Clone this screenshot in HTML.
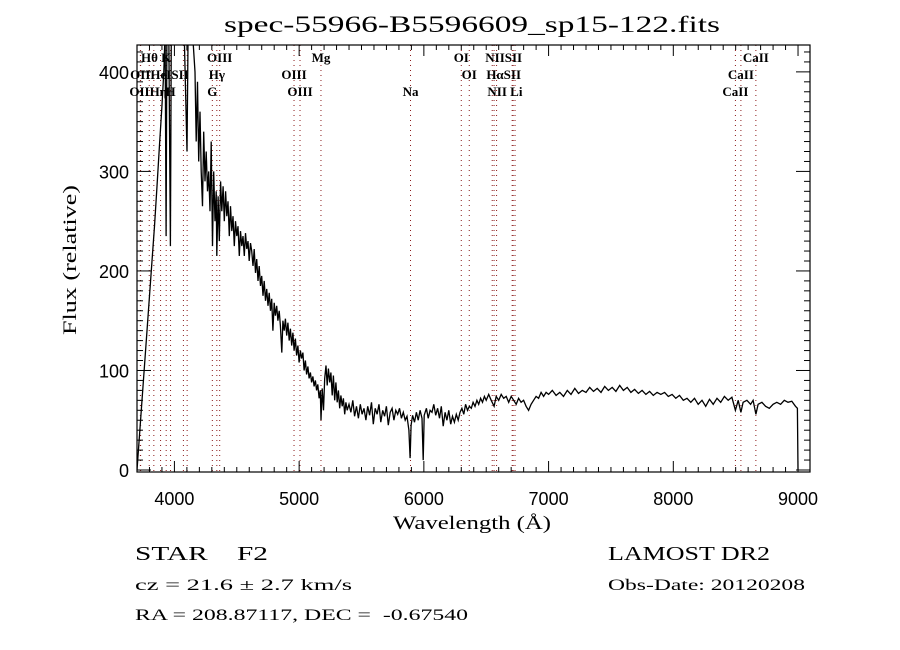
<!DOCTYPE html>
<html><head><meta charset="utf-8"><style>
html,body{margin:0;padding:0;background:#fff;}
svg{display:block;}
</style></head><body>
<svg id="chart" width="900" height="650" xmlns="http://www.w3.org/2000/svg">
<rect x="0" y="0" width="900" height="650" fill="#fff"/>
<text x="224" y="32" textLength="496" lengthAdjust="spacingAndGlyphs" font-family="Liberation Serif, serif" font-size="23">spec-55966-B5596609_sp15-122.fits</text>
<text x="393" y="529" textLength="158" lengthAdjust="spacingAndGlyphs" font-family="Liberation Serif, serif" font-size="19">Wavelength (Å)</text>
<text transform="translate(76,335) rotate(-90)" textLength="150" lengthAdjust="spacingAndGlyphs" font-family="Liberation Serif, serif" font-size="19">Flux (relative)</text>
<text x="135" y="560" textLength="133" lengthAdjust="spacingAndGlyphs" font-family="Liberation Serif, serif" font-size="20" xml:space="preserve">STAR    F2</text>
<text x="608" y="560" textLength="162" lengthAdjust="spacingAndGlyphs" font-family="Liberation Serif, serif" font-size="20">LAMOST DR2</text>
<text x="135" y="590" textLength="217" lengthAdjust="spacingAndGlyphs" font-family="Liberation Serif, serif" font-size="16">cz = 21.6 ± 2.7 km/s</text>
<text x="608" y="590" textLength="197" lengthAdjust="spacingAndGlyphs" font-family="Liberation Serif, serif" font-size="16">Obs-Date: 20120208</text>
<text x="135" y="620" textLength="333" lengthAdjust="spacingAndGlyphs" font-family="Liberation Serif, serif" font-size="16" xml:space="preserve">RA = 208.87117, DEC =  -0.67540</text>
<g id="plot"></g>
</svg>
<script>
const wl = [3700,3720,3740,3760,3780,3800,3820,3840,3860,3880,3900,3915,3925,3933,3940,3955,3968,3975,4000,4030,4060,4080,4101,4110,4130,4150,4165,4175,4185,4195,4205,4215,4225,4235,4245,4255,4265,4275,4285,4295,4305,4315,4325,4335,4340,4350,4360,4370,4380,4390,4400,4410,4420,4430,4440,4450,4460,4470,4480,4490,4500,4510,4520,4530,4540,4550,4560,4570,4580,4590,4600,4610,4620,4630,4640,4650,4660,4670,4680,4690,4700,4710,4720,4730,4740,4750,4760,4770,4780,4790,4800,4810,4820,4830,4840,4850,4861,4870,4880,4890,4900,4910,4920,4930,4940,4950,4960,4970,4980,4990,5000,5010,5020,5030,5040,5050,5060,5070,5080,5090,5100,5110,5120,5130,5140,5150,5160,5170,5175,5185,5195,5205,5215,5225,5235,5245,5255,5265,5275,5285,5295,5305,5315,5325,5335,5345,5355,5365,5375,5385,5400,5415,5430,5445,5460,5475,5490,5505,5520,5535,5550,5565,5580,5595,5610,5625,5640,5655,5670,5685,5700,5715,5730,5745,5760,5775,5790,5805,5820,5835,5850,5865,5880,5890,5898,5910,5925,5940,5955,5970,5985,5995,6003,6020,6035,6050,6065,6080,6095,6110,6125,6140,6155,6170,6185,6200,6215,6230,6245,6260,6275,6290,6305,6320,6335,6350,6365,6380,6395,6410,6425,6440,6455,6470,6485,6500,6520,6540,6563,6580,6600,6620,6640,6660,6680,6700,6720,6740,6760,6780,6800,6820,6840,6860,6880,6900,6920,6940,6960,6980,7000,7030,7060,7090,7120,7150,7180,7210,7240,7270,7300,7330,7360,7390,7420,7450,7480,7510,7540,7570,7600,7630,7660,7690,7720,7750,7780,7810,7840,7870,7900,7930,7960,7990,8020,8050,8080,8110,8140,8170,8200,8230,8260,8290,8320,8350,8380,8410,8440,8470,8498,8520,8542,8560,8590,8620,8640,8662,8680,8710,8740,8770,8800,8830,8860,8890,8920,8950,8980,8995,9000];
const flux = [0,35,70,105,140,175,210,245,285,325,365,400,440,235,440,440,225,440,450,440,445,430,320,440,445,430,400,330,390,310,360,300,265,340,290,320,280,300,260,330,225,300,250,280,215,275,230,290,260,285,250,280,255,270,235,265,240,255,225,250,235,245,215,240,225,235,215,238,222,230,210,228,220,205,222,198,212,190,205,185,195,175,190,170,182,165,178,160,172,140,168,155,165,150,160,145,118,150,140,152,135,148,130,142,125,138,120,132,115,125,108,120,112,118,100,110,96,104,92,98,88,94,84,90,80,86,72,80,50,82,60,92,105,85,102,88,98,75,95,70,88,68,80,62,75,64,72,56,68,60,66,58,70,54,64,52,66,56,62,50,64,55,68,46,62,56,66,48,60,54,64,45,58,62,50,60,56,62,52,58,50,54,40,12,45,55,48,58,50,60,52,10,55,62,52,60,58,66,55,62,52,64,44,58,50,60,46,54,48,56,50,58,62,56,66,60,64,62,68,64,70,66,72,68,74,70,76,70,64,74,70,76,72,74,68,74,70,66,72,68,70,64,60,66,70,74,72,78,74,78,76,80,75,78,74,80,76,82,77,80,78,83,79,82,78,84,80,83,79,85,80,83,78,81,77,80,76,79,75,78,76,78,74,76,72,75,70,72,68,72,66,70,64,71,66,72,68,74,70,73,60,70,58,68,70,66,70,56,66,68,64,62,66,68,66,70,68,69,64,62,0];
const xTicks = [4000,5000,6000,7000,8000,9000];
const yTicks = [0,100,200,300,400];
const lineWl = [3727,3729,3798,3835,3889,3934,3969,4072,4102,4304,4340,4363,4959,5007,5175,5893,6300,6364,6548,6563,6583,6708,6716,6731,8498,8542,8662];
const labelText = ["Hθ","K","OIII","Mg","OI","NIISII","CaII","OIIHeISII","Hγ","OIII","OI","HαSII","CaII","OIIHη","H","G","OIII","Na","NII Li","CaII"];
const labelWl = [3800,3934,4363,5175,6300,6640,8662,3880,4340,4959,6364,6640,8542,3790,3969,4304,5007,5893,6650,8498];
const labelRow = [0,0,0,0,0,0,0,1,1,1,1,1,1,2,2,2,2,2,2,2];

const L=137,R=810,T=45,B=472;
const XMIN=3700, XMAX=9096, YMIN=-2, YMAX=427;
const sx = v => L + (v-XMIN)/(XMAX-XMIN)*(R-L);
const sy = v => B - (v-YMIN)/(YMAX-YMIN)*(B-T);
const NS="http://www.w3.org/2000/svg";
const g=document.getElementById('plot');
function mk(tag, attrs){const e=document.createElementNS(NS,tag);for(const k in attrs)e.setAttribute(k,attrs[k]);g.appendChild(e);return e;}

const defs=mk('defs',{});
const cp=document.createElementNS(NS,'clipPath');cp.setAttribute('id','pc');
const cr=document.createElementNS(NS,'rect');cr.setAttribute('x',L);cr.setAttribute('y',T);cr.setAttribute('width',R-L);cr.setAttribute('height',B-T);
cp.appendChild(cr);defs.appendChild(cp);

lineWl.forEach(w=>{
  const e=mk('line',{x1:sx(w),x2:sx(w),y1:T,y2:B,stroke:'#8b1a1a','stroke-width':1,'stroke-dasharray':'1,4'});
  
  
});
labelText.forEach((t,i)=>{
  const e=mk('text',{x:sx(labelWl[i]),y:62+labelRow[i]*17,'text-anchor':'middle','font-family':'Liberation Serif, serif','font-size':13,'font-weight':'bold'});
  e.textContent=t;
  
  
});

let d='';
wl.forEach((w,i)=>{d+=(i?'L':'M')+sx(w).toFixed(1)+','+sy(flux[i]).toFixed(1);});
const sp=mk('path',{d:d,fill:'none',stroke:'#000','stroke-width':1.3,'clip-path':'url(#pc)'});



const fr=mk('rect',{x:L,y:T,width:R-L,height:B-T,fill:'none',stroke:'#000','stroke-width':1.2});



for(let w=3700; w<=XMAX; w+=100){
  const major = w%1000===0, len = major?11:5, x=sx(w);
  mk('line',{x1:x,x2:x,y1:B,y2:B-len,stroke:'#000','stroke-width':1});
  mk('line',{x1:x,x2:x,y1:T,y2:T+len,stroke:'#000','stroke-width':1});
}
xTicks.forEach(v=>{
  const e=mk('text',{x:sx(v),y:505,'text-anchor':'middle','font-family':'Liberation Sans, sans-serif','font-size':18});
  e.textContent=v;
  
  
});
for(let v=0; v<=YMAX; v+=10){
  const major=v%100===0, len=major?14:6, y=sy(v);
  mk('line',{x1:L,x2:L+len,y1:y,y2:y,stroke:'#000','stroke-width':1});
  mk('line',{x1:R,x2:R-len,y1:y,y2:y,stroke:'#000','stroke-width':1});
}
yTicks.forEach(v=>{
  const e=mk('text',{x:129,y:sy(v)+7,'text-anchor':'end','font-family':'Liberation Sans, sans-serif','font-size':18});
  e.textContent=v;
  
  
});
</script>
</body></html>
